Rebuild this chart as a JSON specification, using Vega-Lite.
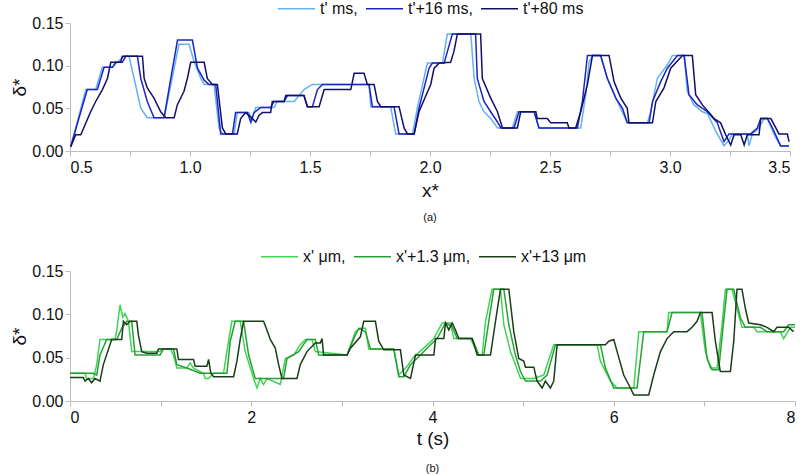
{
  "$schema": "https://vega.github.io/schema/vega-lite/v6.json",
  "padding": {"left": 10, "top": -11, "right": 5, "bottom": 5},
  "config": {
    "font": "Liberation Sans",
    "view": {"stroke": null},
    "axis": {"grid": false, "domainColor": "#bdbdbd", "tickColor": "#bdbdbd", "tickSize": 5, "labelFont": "Liberation Sans", "labelFontSize": 16, "labelColor": "#111111", "titleFont": "Liberation Sans", "titleFontWeight": "normal", "titleFontSize": 19, "titleColor": "#111111", "labelPadding": 3},
    "title": {"font": "Liberation Sans", "fontWeight": "normal", "fontSize": 11, "color": "#111111"}
  },
  "bounds": "flush",
  "spacing": 120,
  "resolve": {"scale": {"color": "independent", "x": "independent"}, "legend": {"color": "independent"}},
  "datasets": {
    "a": [
      {"s":"t' ms","x":0.503,"y":0.005},{"s":"t' ms","x":0.566,"y":0.072},{"s":"t' ms","x":0.607,"y":0.072},{"s":"t' ms","x":0.635,"y":0.098},{"s":"t' ms","x":0.677,"y":0.098},{"s":"t' ms","x":0.697,"y":0.104},{"s":"t' ms","x":0.725,"y":0.111},{"s":"t' ms","x":0.746,"y":0.111},{"s":"t' ms","x":0.767,"y":0.085},{"s":"t' ms","x":0.795,"y":0.050},{"s":"t' ms","x":0.822,"y":0.039},{"s":"t' ms","x":0.892,"y":0.039},{"s":"t' ms","x":0.906,"y":0.058},{"s":"t' ms","x":0.934,"y":0.097},{"s":"t' ms","x":0.954,"y":0.125},{"s":"t' ms","x":0.996,"y":0.125},{"s":"t' ms","x":1.017,"y":0.105},{"s":"t' ms","x":1.045,"y":0.085},{"s":"t' ms","x":1.059,"y":0.078},{"s":"t' ms","x":1.100,"y":0.078},{"s":"t' ms","x":1.121,"y":0.027},{"s":"t' ms","x":1.135,"y":0.020},{"s":"t' ms","x":1.184,"y":0.020},{"s":"t' ms","x":1.197,"y":0.045},{"s":"t' ms","x":1.246,"y":0.045},{"s":"t' ms","x":1.256,"y":0.034},{"s":"t' ms","x":1.267,"y":0.045},{"s":"t' ms","x":1.274,"y":0.051},{"s":"t' ms","x":1.350,"y":0.051},{"s":"t' ms","x":1.364,"y":0.058},{"s":"t' ms","x":1.434,"y":0.058},{"s":"t' ms","x":1.475,"y":0.072},{"s":"t' ms","x":1.510,"y":0.078},{"s":"t' ms","x":1.746,"y":0.078},{"s":"t' ms","x":1.753,"y":0.052},{"s":"t' ms","x":1.836,"y":0.052},{"s":"t' ms","x":1.857,"y":0.020},{"s":"t' ms","x":1.927,"y":0.020},{"s":"t' ms","x":1.947,"y":0.050},{"s":"t' ms","x":1.989,"y":0.103},{"s":"t' ms","x":2.052,"y":0.103},{"s":"t' ms","x":2.072,"y":0.137},{"s":"t' ms","x":2.170,"y":0.137},{"s":"t' ms","x":2.184,"y":0.085},{"s":"t' ms","x":2.204,"y":0.058},{"s":"t' ms","x":2.225,"y":0.046},{"s":"t' ms","x":2.253,"y":0.038},{"s":"t' ms","x":2.281,"y":0.027},{"s":"t' ms","x":2.343,"y":0.027},{"s":"t' ms","x":2.364,"y":0.046},{"s":"t' ms","x":2.434,"y":0.046},{"s":"t' ms","x":2.454,"y":0.027},{"s":"t' ms","x":2.628,"y":0.027},{"s":"t' ms","x":2.649,"y":0.066},{"s":"t' ms","x":2.663,"y":0.104},{"s":"t' ms","x":2.677,"y":0.112},{"s":"t' ms","x":2.711,"y":0.112},{"s":"t' ms","x":2.739,"y":0.085},{"s":"t' ms","x":2.781,"y":0.058},{"s":"t' ms","x":2.822,"y":0.033},{"s":"t' ms","x":2.906,"y":0.033},{"s":"t' ms","x":2.920,"y":0.046},{"s":"t' ms","x":2.947,"y":0.085},{"s":"t' ms","x":2.989,"y":0.101},{"s":"t' ms","x":3.010,"y":0.112},{"s":"t' ms","x":3.059,"y":0.112},{"s":"t' ms","x":3.072,"y":0.070},{"s":"t' ms","x":3.100,"y":0.054},{"s":"t' ms","x":3.135,"y":0.046},{"s":"t' ms","x":3.156,"y":0.044},{"s":"t' ms","x":3.191,"y":0.023},{"s":"t' ms","x":3.225,"y":0.006},{"s":"t' ms","x":3.246,"y":0.013},{"s":"t' ms","x":3.260,"y":0.020},{"s":"t' ms","x":3.322,"y":0.020},{"s":"t' ms","x":3.329,"y":0.006},{"s":"t' ms","x":3.343,"y":0.020},{"s":"t' ms","x":3.371,"y":0.027},{"s":"t' ms","x":3.392,"y":0.038},{"s":"t' ms","x":3.406,"y":0.038},{"s":"t' ms","x":3.434,"y":0.019},{"s":"t' ms","x":3.461,"y":0.006},{"s":"t' ms","x":3.496,"y":0.006},
      {"s":"t'+16 ms","x":0.503,"y":0.005},{"s":"t'+16 ms","x":0.545,"y":0.046},{"s":"t'+16 ms","x":0.572,"y":0.072},{"s":"t'+16 ms","x":0.614,"y":0.072},{"s":"t'+16 ms","x":0.642,"y":0.098},{"s":"t'+16 ms","x":0.677,"y":0.098},{"s":"t'+16 ms","x":0.690,"y":0.104},{"s":"t'+16 ms","x":0.718,"y":0.104},{"s":"t'+16 ms","x":0.732,"y":0.111},{"s":"t'+16 ms","x":0.781,"y":0.111},{"s":"t'+16 ms","x":0.795,"y":0.085},{"s":"t'+16 ms","x":0.822,"y":0.058},{"s":"t'+16 ms","x":0.850,"y":0.039},{"s":"t'+16 ms","x":0.892,"y":0.039},{"s":"t'+16 ms","x":0.920,"y":0.085},{"s":"t'+16 ms","x":0.948,"y":0.130},{"s":"t'+16 ms","x":1.010,"y":0.130},{"s":"t'+16 ms","x":1.031,"y":0.097},{"s":"t'+16 ms","x":1.059,"y":0.083},{"s":"t'+16 ms","x":1.079,"y":0.078},{"s":"t'+16 ms","x":1.107,"y":0.078},{"s":"t'+16 ms","x":1.128,"y":0.020},{"s":"t'+16 ms","x":1.177,"y":0.020},{"s":"t'+16 ms","x":1.190,"y":0.045},{"s":"t'+16 ms","x":1.239,"y":0.045},{"s":"t'+16 ms","x":1.253,"y":0.034},{"s":"t'+16 ms","x":1.267,"y":0.045},{"s":"t'+16 ms","x":1.295,"y":0.051},{"s":"t'+16 ms","x":1.336,"y":0.051},{"s":"t'+16 ms","x":1.350,"y":0.058},{"s":"t'+16 ms","x":1.392,"y":0.058},{"s":"t'+16 ms","x":1.406,"y":0.065},{"s":"t'+16 ms","x":1.475,"y":0.065},{"s":"t'+16 ms","x":1.489,"y":0.052},{"s":"t'+16 ms","x":1.510,"y":0.052},{"s":"t'+16 ms","x":1.531,"y":0.072},{"s":"t'+16 ms","x":1.552,"y":0.078},{"s":"t'+16 ms","x":1.746,"y":0.078},{"s":"t'+16 ms","x":1.760,"y":0.052},{"s":"t'+16 ms","x":1.850,"y":0.052},{"s":"t'+16 ms","x":1.871,"y":0.020},{"s":"t'+16 ms","x":1.934,"y":0.020},{"s":"t'+16 ms","x":1.954,"y":0.050},{"s":"t'+16 ms","x":1.996,"y":0.097},{"s":"t'+16 ms","x":2.010,"y":0.103},{"s":"t'+16 ms","x":2.059,"y":0.103},{"s":"t'+16 ms","x":2.093,"y":0.137},{"s":"t'+16 ms","x":2.190,"y":0.137},{"s":"t'+16 ms","x":2.197,"y":0.085},{"s":"t'+16 ms","x":2.225,"y":0.058},{"s":"t'+16 ms","x":2.253,"y":0.046},{"s":"t'+16 ms","x":2.281,"y":0.034},{"s":"t'+16 ms","x":2.295,"y":0.027},{"s":"t'+16 ms","x":2.350,"y":0.027},{"s":"t'+16 ms","x":2.371,"y":0.046},{"s":"t'+16 ms","x":2.434,"y":0.046},{"s":"t'+16 ms","x":2.454,"y":0.027},{"s":"t'+16 ms","x":2.614,"y":0.027},{"s":"t'+16 ms","x":2.635,"y":0.058},{"s":"t'+16 ms","x":2.656,"y":0.112},{"s":"t'+16 ms","x":2.711,"y":0.112},{"s":"t'+16 ms","x":2.739,"y":0.085},{"s":"t'+16 ms","x":2.774,"y":0.062},{"s":"t'+16 ms","x":2.802,"y":0.050},{"s":"t'+16 ms","x":2.822,"y":0.033},{"s":"t'+16 ms","x":2.913,"y":0.033},{"s":"t'+16 ms","x":2.927,"y":0.058},{"s":"t'+16 ms","x":2.961,"y":0.081},{"s":"t'+16 ms","x":2.989,"y":0.097},{"s":"t'+16 ms","x":3.031,"y":0.112},{"s":"t'+16 ms","x":3.059,"y":0.112},{"s":"t'+16 ms","x":3.079,"y":0.066},{"s":"t'+16 ms","x":3.114,"y":0.054},{"s":"t'+16 ms","x":3.156,"y":0.046},{"s":"t'+16 ms","x":3.197,"y":0.033},{"s":"t'+16 ms","x":3.225,"y":0.011},{"s":"t'+16 ms","x":3.246,"y":0.020},{"s":"t'+16 ms","x":3.336,"y":0.020},{"s":"t'+16 ms","x":3.364,"y":0.027},{"s":"t'+16 ms","x":3.378,"y":0.038},{"s":"t'+16 ms","x":3.406,"y":0.038},{"s":"t'+16 ms","x":3.427,"y":0.027},{"s":"t'+16 ms","x":3.461,"y":0.006},{"s":"t'+16 ms","x":3.496,"y":0.006},
      {"s":"t'+80 ms","x":0.503,"y":0.005},{"s":"t'+80 ms","x":0.524,"y":0.019},{"s":"t'+80 ms","x":0.545,"y":0.019},{"s":"t'+80 ms","x":0.586,"y":0.046},{"s":"t'+80 ms","x":0.607,"y":0.058},{"s":"t'+80 ms","x":0.635,"y":0.072},{"s":"t'+80 ms","x":0.656,"y":0.085},{"s":"t'+80 ms","x":0.670,"y":0.104},{"s":"t'+80 ms","x":0.711,"y":0.104},{"s":"t'+80 ms","x":0.718,"y":0.111},{"s":"t'+80 ms","x":0.802,"y":0.111},{"s":"t'+80 ms","x":0.809,"y":0.085},{"s":"t'+80 ms","x":0.822,"y":0.074},{"s":"t'+80 ms","x":0.850,"y":0.062},{"s":"t'+80 ms","x":0.878,"y":0.046},{"s":"t'+80 ms","x":0.899,"y":0.039},{"s":"t'+80 ms","x":0.934,"y":0.039},{"s":"t'+80 ms","x":0.947,"y":0.054},{"s":"t'+80 ms","x":0.975,"y":0.070},{"s":"t'+80 ms","x":0.989,"y":0.085},{"s":"t'+80 ms","x":1.003,"y":0.104},{"s":"t'+80 ms","x":1.059,"y":0.104},{"s":"t'+80 ms","x":1.072,"y":0.085},{"s":"t'+80 ms","x":1.093,"y":0.078},{"s":"t'+80 ms","x":1.114,"y":0.078},{"s":"t'+80 ms","x":1.135,"y":0.027},{"s":"t'+80 ms","x":1.149,"y":0.020},{"s":"t'+80 ms","x":1.197,"y":0.020},{"s":"t'+80 ms","x":1.211,"y":0.038},{"s":"t'+80 ms","x":1.232,"y":0.045},{"s":"t'+80 ms","x":1.253,"y":0.040},{"s":"t'+80 ms","x":1.274,"y":0.034},{"s":"t'+80 ms","x":1.288,"y":0.042},{"s":"t'+80 ms","x":1.302,"y":0.045},{"s":"t'+80 ms","x":1.336,"y":0.045},{"s":"t'+80 ms","x":1.343,"y":0.058},{"s":"t'+80 ms","x":1.392,"y":0.058},{"s":"t'+80 ms","x":1.399,"y":0.065},{"s":"t'+80 ms","x":1.475,"y":0.065},{"s":"t'+80 ms","x":1.489,"y":0.052},{"s":"t'+80 ms","x":1.538,"y":0.052},{"s":"t'+80 ms","x":1.559,"y":0.072},{"s":"t'+80 ms","x":1.670,"y":0.072},{"s":"t'+80 ms","x":1.684,"y":0.091},{"s":"t'+80 ms","x":1.725,"y":0.091},{"s":"t'+80 ms","x":1.739,"y":0.078},{"s":"t'+80 ms","x":1.767,"y":0.078},{"s":"t'+80 ms","x":1.781,"y":0.058},{"s":"t'+80 ms","x":1.795,"y":0.052},{"s":"t'+80 ms","x":1.871,"y":0.052},{"s":"t'+80 ms","x":1.892,"y":0.027},{"s":"t'+80 ms","x":1.906,"y":0.020},{"s":"t'+80 ms","x":1.934,"y":0.020},{"s":"t'+80 ms","x":1.954,"y":0.046},{"s":"t'+80 ms","x":2.003,"y":0.078},{"s":"t'+80 ms","x":2.017,"y":0.097},{"s":"t'+80 ms","x":2.038,"y":0.103},{"s":"t'+80 ms","x":2.086,"y":0.104},{"s":"t'+80 ms","x":2.100,"y":0.117},{"s":"t'+80 ms","x":2.114,"y":0.137},{"s":"t'+80 ms","x":2.211,"y":0.137},{"s":"t'+80 ms","x":2.218,"y":0.085},{"s":"t'+80 ms","x":2.253,"y":0.062},{"s":"t'+80 ms","x":2.281,"y":0.046},{"s":"t'+80 ms","x":2.302,"y":0.027},{"s":"t'+80 ms","x":2.364,"y":0.027},{"s":"t'+80 ms","x":2.378,"y":0.046},{"s":"t'+80 ms","x":2.441,"y":0.046},{"s":"t'+80 ms","x":2.447,"y":0.038},{"s":"t'+80 ms","x":2.489,"y":0.038},{"s":"t'+80 ms","x":2.503,"y":0.033},{"s":"t'+80 ms","x":2.572,"y":0.033},{"s":"t'+80 ms","x":2.579,"y":0.027},{"s":"t'+80 ms","x":2.607,"y":0.027},{"s":"t'+80 ms","x":2.628,"y":0.046},{"s":"t'+80 ms","x":2.656,"y":0.078},{"s":"t'+80 ms","x":2.677,"y":0.112},{"s":"t'+80 ms","x":2.746,"y":0.112},{"s":"t'+80 ms","x":2.767,"y":0.081},{"s":"t'+80 ms","x":2.795,"y":0.062},{"s":"t'+80 ms","x":2.822,"y":0.050},{"s":"t'+80 ms","x":2.829,"y":0.033},{"s":"t'+80 ms","x":2.927,"y":0.033},{"s":"t'+80 ms","x":2.941,"y":0.058},{"s":"t'+80 ms","x":2.975,"y":0.074},{"s":"t'+80 ms","x":3.003,"y":0.097},{"s":"t'+80 ms","x":3.052,"y":0.112},{"s":"t'+80 ms","x":3.093,"y":0.112},{"s":"t'+80 ms","x":3.107,"y":0.066},{"s":"t'+80 ms","x":3.135,"y":0.054},{"s":"t'+80 ms","x":3.184,"y":0.038},{"s":"t'+80 ms","x":3.211,"y":0.033},{"s":"t'+80 ms","x":3.232,"y":0.019},{"s":"t'+80 ms","x":3.253,"y":0.007},{"s":"t'+80 ms","x":3.267,"y":0.019},{"s":"t'+80 ms","x":3.295,"y":0.019},{"s":"t'+80 ms","x":3.309,"y":0.007},{"s":"t'+80 ms","x":3.322,"y":0.019},{"s":"t'+80 ms","x":3.371,"y":0.019},{"s":"t'+80 ms","x":3.378,"y":0.038},{"s":"t'+80 ms","x":3.420,"y":0.038},{"s":"t'+80 ms","x":3.441,"y":0.027},{"s":"t'+80 ms","x":3.454,"y":0.020},{"s":"t'+80 ms","x":3.489,"y":0.020},{"s":"t'+80 ms","x":3.496,"y":0.011}
    ],
    "b": [
      {"s":"x' μm","x":0,"y":0.032},{"s":"x' μm","x":0.166,"y":0.032},{"s":"x' μm","x":0.184,"y":0.026},{"s":"x' μm","x":0.258,"y":0.026},{"s":"x' μm","x":0.295,"y":0.042},{"s":"x' μm","x":0.331,"y":0.071},{"s":"x' μm","x":0.497,"y":0.071},{"s":"x' μm","x":0.516,"y":0.082},{"s":"x' μm","x":0.552,"y":0.111},{"s":"x' μm","x":0.582,"y":0.097},{"s":"x' μm","x":0.608,"y":0.101},{"s":"x' μm","x":0.645,"y":0.092},{"s":"x' μm","x":0.681,"y":0.057},{"s":"x' μm","x":0.994,"y":0.057},{"s":"x' μm","x":1.013,"y":0.060},{"s":"x' μm","x":1.105,"y":0.060},{"s":"x' μm","x":1.142,"y":0.053},{"s":"x' μm","x":1.179,"y":0.038},{"s":"x' μm","x":1.289,"y":0.038},{"s":"x' μm","x":1.326,"y":0.044},{"s":"x' μm","x":1.363,"y":0.038},{"s":"x' μm","x":1.473,"y":0.032},{"s":"x' μm","x":1.492,"y":0.026},{"s":"x' μm","x":1.529,"y":0.026},{"s":"x' μm","x":1.584,"y":0.032},{"s":"x' μm","x":1.694,"y":0.032},{"s":"x' μm","x":1.731,"y":0.057},{"s":"x' μm","x":1.786,"y":0.092},{"s":"x' μm","x":1.878,"y":0.092},{"s":"x' μm","x":1.934,"y":0.057},{"s":"x' μm","x":2.026,"y":0.026},{"s":"x' μm","x":2.063,"y":0.015},{"s":"x' μm","x":2.099,"y":0.026},{"s":"x' μm","x":2.136,"y":0.019},{"s":"x' μm","x":2.173,"y":0.026},{"s":"x' μm","x":2.320,"y":0.019},{"s":"x' μm","x":2.376,"y":0.049},{"s":"x' μm","x":2.468,"y":0.053},{"s":"x' μm","x":2.541,"y":0.065},{"s":"x' μm","x":2.597,"y":0.071},{"s":"x' μm","x":2.670,"y":0.071},{"s":"x' μm","x":2.707,"y":0.057},{"s":"x' μm","x":3.057,"y":0.053},{"s":"x' μm","x":3.149,"y":0.080},{"s":"x' μm","x":3.204,"y":0.084},{"s":"x' μm","x":3.260,"y":0.084},{"s":"x' μm","x":3.297,"y":0.060},{"s":"x' μm","x":3.573,"y":0.060},{"s":"x' μm","x":3.628,"y":0.030},{"s":"x' μm","x":3.721,"y":0.040},{"s":"x' μm","x":3.794,"y":0.051},{"s":"x' μm","x":3.904,"y":0.061},{"s":"x' μm","x":4.015,"y":0.072},{"s":"x' μm","x":4.107,"y":0.090},{"s":"x' μm","x":4.199,"y":0.090},{"s":"x' μm","x":4.235,"y":0.072},{"s":"x' μm","x":4.419,"y":0.072},{"s":"x' μm","x":4.474,"y":0.061},{"s":"x' μm","x":4.511,"y":0.053},{"s":"x' μm","x":4.548,"y":0.053},{"s":"x' μm","x":4.585,"y":0.092},{"s":"x' μm","x":4.658,"y":0.129},{"s":"x' μm","x":4.750,"y":0.129},{"s":"x' μm","x":4.787,"y":0.088},{"s":"x' μm","x":4.860,"y":0.057},{"s":"x' μm","x":4.915,"y":0.042},{"s":"x' μm","x":4.971,"y":0.026},{"s":"x' μm","x":5.118,"y":0.026},{"s":"x' μm","x":5.228,"y":0.030},{"s":"x' μm","x":5.338,"y":0.065},{"s":"x' μm","x":5.816,"y":0.065},{"s":"x' μm","x":5.853,"y":0.046},{"s":"x' μm","x":5.963,"y":0.023},{"s":"x' μm","x":6.037,"y":0.015},{"s":"x' μm","x":6.221,"y":0.015},{"s":"x' μm","x":6.276,"y":0.080},{"s":"x' μm","x":6.588,"y":0.080},{"s":"x' μm","x":6.607,"y":0.102},{"s":"x' μm","x":6.956,"y":0.102},{"s":"x' μm","x":7.011,"y":0.057},{"s":"x' μm","x":7.066,"y":0.038},{"s":"x' μm","x":7.140,"y":0.038},{"s":"x' μm","x":7.195,"y":0.088},{"s":"x' μm","x":7.232,"y":0.129},{"s":"x' μm","x":7.305,"y":0.129},{"s":"x' μm","x":7.360,"y":0.107},{"s":"x' μm","x":7.415,"y":0.085},{"s":"x' μm","x":7.544,"y":0.085},{"s":"x' μm","x":7.581,"y":0.080},{"s":"x' μm","x":7.838,"y":0.080},{"s":"x' μm","x":7.875,"y":0.072},{"s":"x' μm","x":7.949,"y":0.085},{"s":"x' μm","x":8.0,"y":0.085},
      {"s":"x'+1.3 μm","x":0,"y":0.032},{"s":"x'+1.3 μm","x":0.258,"y":0.032},{"s":"x'+1.3 μm","x":0.295,"y":0.030},{"s":"x'+1.3 μm","x":0.331,"y":0.053},{"s":"x'+1.3 μm","x":0.405,"y":0.071},{"s":"x'+1.3 μm","x":0.516,"y":0.071},{"s":"x'+1.3 μm","x":0.571,"y":0.084},{"s":"x'+1.3 μm","x":0.626,"y":0.092},{"s":"x'+1.3 μm","x":0.681,"y":0.092},{"s":"x'+1.3 μm","x":0.718,"y":0.053},{"s":"x'+1.3 μm","x":0.994,"y":0.053},{"s":"x'+1.3 μm","x":1.031,"y":0.060},{"s":"x'+1.3 μm","x":1.142,"y":0.060},{"s":"x'+1.3 μm","x":1.179,"y":0.042},{"s":"x'+1.3 μm","x":1.289,"y":0.038},{"s":"x'+1.3 μm","x":1.436,"y":0.032},{"s":"x'+1.3 μm","x":1.731,"y":0.032},{"s":"x'+1.3 μm","x":1.768,"y":0.069},{"s":"x'+1.3 μm","x":1.823,"y":0.092},{"s":"x'+1.3 μm","x":1.915,"y":0.092},{"s":"x'+1.3 μm","x":1.971,"y":0.053},{"s":"x'+1.3 μm","x":2.044,"y":0.026},{"s":"x'+1.3 μm","x":2.357,"y":0.026},{"s":"x'+1.3 μm","x":2.394,"y":0.049},{"s":"x'+1.3 μm","x":2.523,"y":0.057},{"s":"x'+1.3 μm","x":2.615,"y":0.071},{"s":"x'+1.3 μm","x":2.707,"y":0.071},{"s":"x'+1.3 μm","x":2.744,"y":0.053},{"s":"x'+1.3 μm","x":3.057,"y":0.053},{"s":"x'+1.3 μm","x":3.131,"y":0.072},{"s":"x'+1.3 μm","x":3.186,"y":0.084},{"s":"x'+1.3 μm","x":3.260,"y":0.080},{"s":"x'+1.3 μm","x":3.315,"y":0.060},{"s":"x'+1.3 μm","x":3.573,"y":0.060},{"s":"x'+1.3 μm","x":3.628,"y":0.028},{"s":"x'+1.3 μm","x":3.684,"y":0.028},{"s":"x'+1.3 μm","x":3.757,"y":0.042},{"s":"x'+1.3 μm","x":3.868,"y":0.053},{"s":"x'+1.3 μm","x":3.978,"y":0.065},{"s":"x'+1.3 μm","x":4.051,"y":0.072},{"s":"x'+1.3 μm","x":4.143,"y":0.090},{"s":"x'+1.3 μm","x":4.217,"y":0.086},{"s":"x'+1.3 μm","x":4.272,"y":0.072},{"s":"x'+1.3 μm","x":4.438,"y":0.072},{"s":"x'+1.3 μm","x":4.511,"y":0.053},{"s":"x'+1.3 μm","x":4.566,"y":0.053},{"s":"x'+1.3 μm","x":4.621,"y":0.092},{"s":"x'+1.3 μm","x":4.676,"y":0.129},{"s":"x'+1.3 μm","x":4.787,"y":0.129},{"s":"x'+1.3 μm","x":4.842,"y":0.088},{"s":"x'+1.3 μm","x":4.915,"y":0.053},{"s":"x'+1.3 μm","x":4.971,"y":0.034},{"s":"x'+1.3 μm","x":5.026,"y":0.023},{"s":"x'+1.3 μm","x":5.191,"y":0.023},{"s":"x'+1.3 μm","x":5.265,"y":0.030},{"s":"x'+1.3 μm","x":5.357,"y":0.065},{"s":"x'+1.3 μm","x":5.853,"y":0.065},{"s":"x'+1.3 μm","x":5.908,"y":0.038},{"s":"x'+1.3 μm","x":6.000,"y":0.015},{"s":"x'+1.3 μm","x":6.257,"y":0.015},{"s":"x'+1.3 μm","x":6.331,"y":0.080},{"s":"x'+1.3 μm","x":6.588,"y":0.080},{"s":"x'+1.3 μm","x":6.643,"y":0.102},{"s":"x'+1.3 μm","x":6.974,"y":0.102},{"s":"x'+1.3 μm","x":7.029,"y":0.049},{"s":"x'+1.3 μm","x":7.085,"y":0.036},{"s":"x'+1.3 μm","x":7.158,"y":0.036},{"s":"x'+1.3 μm","x":7.213,"y":0.092},{"s":"x'+1.3 μm","x":7.250,"y":0.129},{"s":"x'+1.3 μm","x":7.324,"y":0.129},{"s":"x'+1.3 μm","x":7.397,"y":0.096},{"s":"x'+1.3 μm","x":7.452,"y":0.085},{"s":"x'+1.3 μm","x":7.618,"y":0.085},{"s":"x'+1.3 μm","x":7.691,"y":0.080},{"s":"x'+1.3 μm","x":7.875,"y":0.080},{"s":"x'+1.3 μm","x":7.930,"y":0.088},{"s":"x'+1.3 μm","x":8.0,"y":0.088},
      {"s":"x'+13 μm","x":0,"y":0.027},{"s":"x'+13 μm","x":0.147,"y":0.027},{"s":"x'+13 μm","x":0.166,"y":0.023},{"s":"x'+13 μm","x":0.203,"y":0.026},{"s":"x'+13 μm","x":0.239,"y":0.021},{"s":"x'+13 μm","x":0.276,"y":0.026},{"s":"x'+13 μm","x":0.331,"y":0.023},{"s":"x'+13 μm","x":0.368,"y":0.042},{"s":"x'+13 μm","x":0.460,"y":0.071},{"s":"x'+13 μm","x":0.571,"y":0.071},{"s":"x'+13 μm","x":0.589,"y":0.092},{"s":"x'+13 μm","x":0.626,"y":0.088},{"s":"x'+13 μm","x":0.663,"y":0.092},{"s":"x'+13 μm","x":0.737,"y":0.092},{"s":"x'+13 μm","x":0.755,"y":0.076},{"s":"x'+13 μm","x":0.792,"y":0.057},{"s":"x'+13 μm","x":0.847,"y":0.055},{"s":"x'+13 μm","x":0.958,"y":0.055},{"s":"x'+13 μm","x":0.976,"y":0.060},{"s":"x'+13 μm","x":1.179,"y":0.060},{"s":"x'+13 μm","x":1.197,"y":0.048},{"s":"x'+13 μm","x":1.363,"y":0.048},{"s":"x'+13 μm","x":1.381,"y":0.040},{"s":"x'+13 μm","x":1.510,"y":0.040},{"s":"x'+13 μm","x":1.529,"y":0.048},{"s":"x'+13 μm","x":1.554,"y":0.032},{"s":"x'+13 μm","x":1.584,"y":0.028},{"s":"x'+13 μm","x":1.805,"y":0.028},{"s":"x'+13 μm","x":1.842,"y":0.046},{"s":"x'+13 μm","x":1.878,"y":0.071},{"s":"x'+13 μm","x":1.915,"y":0.092},{"s":"x'+13 μm","x":2.136,"y":0.092},{"s":"x'+13 μm","x":2.173,"y":0.082},{"s":"x'+13 μm","x":2.210,"y":0.071},{"s":"x'+13 μm","x":2.265,"y":0.061},{"s":"x'+13 μm","x":2.302,"y":0.042},{"s":"x'+13 μm","x":2.339,"y":0.026},{"s":"x'+13 μm","x":2.505,"y":0.026},{"s":"x'+13 μm","x":2.541,"y":0.042},{"s":"x'+13 μm","x":2.615,"y":0.057},{"s":"x'+13 μm","x":2.707,"y":0.067},{"s":"x'+13 μm","x":2.762,"y":0.067},{"s":"x'+13 μm","x":2.781,"y":0.072},{"s":"x'+13 μm","x":2.799,"y":0.053},{"s":"x'+13 μm","x":3.057,"y":0.053},{"s":"x'+13 μm","x":3.094,"y":0.061},{"s":"x'+13 μm","x":3.204,"y":0.074},{"s":"x'+13 μm","x":3.241,"y":0.092},{"s":"x'+13 μm","x":3.370,"y":0.092},{"s":"x'+13 μm","x":3.407,"y":0.069},{"s":"x'+13 μm","x":3.462,"y":0.059},{"s":"x'+13 μm","x":3.646,"y":0.059},{"s":"x'+13 μm","x":3.683,"y":0.030},{"s":"x'+13 μm","x":3.757,"y":0.026},{"s":"x'+13 μm","x":3.813,"y":0.053},{"s":"x'+13 μm","x":4.015,"y":0.053},{"s":"x'+13 μm","x":4.033,"y":0.072},{"s":"x'+13 μm","x":4.125,"y":0.072},{"s":"x'+13 μm","x":4.143,"y":0.090},{"s":"x'+13 μm","x":4.180,"y":0.082},{"s":"x'+13 μm","x":4.217,"y":0.090},{"s":"x'+13 μm","x":4.254,"y":0.082},{"s":"x'+13 μm","x":4.290,"y":0.072},{"s":"x'+13 μm","x":4.438,"y":0.072},{"s":"x'+13 μm","x":4.493,"y":0.053},{"s":"x'+13 μm","x":4.640,"y":0.053},{"s":"x'+13 μm","x":4.695,"y":0.092},{"s":"x'+13 μm","x":4.750,"y":0.129},{"s":"x'+13 μm","x":4.842,"y":0.129},{"s":"x'+13 μm","x":4.897,"y":0.080},{"s":"x'+13 μm","x":4.952,"y":0.049},{"s":"x'+13 μm","x":5.007,"y":0.046},{"s":"x'+13 μm","x":5.026,"y":0.039},{"s":"x'+13 μm","x":5.118,"y":0.039},{"s":"x'+13 μm","x":5.154,"y":0.023},{"s":"x'+13 μm","x":5.210,"y":0.015},{"s":"x'+13 μm","x":5.246,"y":0.023},{"s":"x'+13 μm","x":5.301,"y":0.015},{"s":"x'+13 μm","x":5.338,"y":0.023},{"s":"x'+13 μm","x":5.375,"y":0.065},{"s":"x'+13 μm","x":5.908,"y":0.065},{"s":"x'+13 μm","x":5.945,"y":0.069},{"s":"x'+13 μm","x":6.000,"y":0.071},{"s":"x'+13 μm","x":6.037,"y":0.057},{"s":"x'+13 μm","x":6.110,"y":0.030},{"s":"x'+13 μm","x":6.184,"y":0.015},{"s":"x'+13 μm","x":6.221,"y":0.007},{"s":"x'+13 μm","x":6.386,"y":0.007},{"s":"x'+13 μm","x":6.441,"y":0.030},{"s":"x'+13 μm","x":6.515,"y":0.057},{"s":"x'+13 μm","x":6.588,"y":0.072},{"s":"x'+13 μm","x":6.662,"y":0.080},{"s":"x'+13 μm","x":6.809,"y":0.080},{"s":"x'+13 μm","x":6.864,"y":0.085},{"s":"x'+13 μm","x":6.919,"y":0.092},{"s":"x'+13 μm","x":6.956,"y":0.102},{"s":"x'+13 μm","x":7.085,"y":0.102},{"s":"x'+13 μm","x":7.121,"y":0.069},{"s":"x'+13 μm","x":7.176,"y":0.034},{"s":"x'+13 μm","x":7.287,"y":0.034},{"s":"x'+13 μm","x":7.324,"y":0.069},{"s":"x'+13 μm","x":7.360,"y":0.129},{"s":"x'+13 μm","x":7.415,"y":0.129},{"s":"x'+13 μm","x":7.452,"y":0.107},{"s":"x'+13 μm","x":7.489,"y":0.090},{"s":"x'+13 μm","x":7.618,"y":0.088},{"s":"x'+13 μm","x":7.691,"y":0.085},{"s":"x'+13 μm","x":7.765,"y":0.080},{"s":"x'+13 μm","x":7.801,"y":0.085},{"s":"x'+13 μm","x":7.930,"y":0.085},{"s":"x'+13 μm","x":7.985,"y":0.080}
    ]
  },
  "vconcat": [
    {
      "width": 720,
      "height": 128,
      "data": {"name": "a"},
      "title": {"text": "(a)", "orient": "bottom", "anchor": "middle", "offset": 12},
      "mark": {"type": "line", "strokeWidth": 1.5, "clip": true},
      "encoding": {
        "x": {"field": "x", "type": "quantitative", "scale": {"domain": [0.5, 3.5], "nice": false, "zero": false},
              "axis": {"title": "x*", "values": [0.5,0.75,1,1.25,1.5,1.75,2,2.25,2.5,2.75,3,3.25,3.5], "labelExpr": "abs(datum.value*2 - round(datum.value*2)) < 0.01 ? format(datum.value, '.1f') : ''", "titlePadding": 6}},
        "y": {"field": "y", "type": "quantitative", "scale": {"domain": [0, 0.15], "nice": false},
              "axis": {"title": "δ*", "values": [0, 0.05, 0.1, 0.15], "format": ".2f", "labelPadding": 2, "titlePadding": 2}},
        "color": {"field": "s", "type": "nominal",
                  "scale": {"domain": ["t' ms", "t'+16 ms", "t'+80 ms"], "range": ["#64b2ee", "#1e24c4", "#101068"]},
                  "legend": {"orient": "none", "legendX": 207, "legendY": -34, "direction": "horizontal", "title": null, "symbolType": "stroke", "symbolSize": 1369, "symbolStrokeWidth": 1.5, "labelFontSize": 16, "labelFont": "Liberation Sans", "labelColor": "#111111", "labelOffset": 4, "columnPadding": 5, "labelLimit": 300, "labelExpr": "datum.label == \"t'+80 ms\" ? datum.label : datum.label + ','"}}
      }
    },
    {
      "width": 725,
      "height": 130,
      "data": {"name": "b"},
      "title": {"text": "(b)", "orient": "bottom", "anchor": "middle", "offset": 15},
      "mark": {"type": "line", "strokeWidth": 1.5, "clip": true},
      "encoding": {
        "x": {"field": "x", "type": "quantitative", "scale": {"domain": [0, 8], "nice": false},
              "axis": {"title": "t (s)", "values": [0,1,2,3,4,5,6,7,8], "labelExpr": "datum.value % 2 == 0 ? format(datum.value, 'd') : ''", "titlePadding": 4}},
        "y": {"field": "y", "type": "quantitative", "scale": {"domain": [0, 0.15], "nice": false},
              "axis": {"title": "δ*", "values": [0, 0.05, 0.1, 0.15], "format": ".2f", "labelPadding": 2, "titlePadding": 2}},
        "color": {"field": "s", "type": "nominal",
                  "scale": {"domain": ["x' μm", "x'+1.3 μm", "x'+13 μm"], "range": ["#3ed454", "#27a034", "#1a3d1a"]},
                  "legend": {"orient": "none", "legendX": 190, "legendY": -34, "direction": "horizontal", "title": null, "symbolType": "stroke", "symbolSize": 1369, "symbolStrokeWidth": 1.5, "labelFontSize": 16, "labelFont": "Liberation Sans", "labelColor": "#111111", "labelOffset": 4, "columnPadding": 5, "labelLimit": 300, "labelExpr": "datum.label == \"x'+13 μm\" ? datum.label : datum.label + ','"}}
      }
    }
  ]
}
